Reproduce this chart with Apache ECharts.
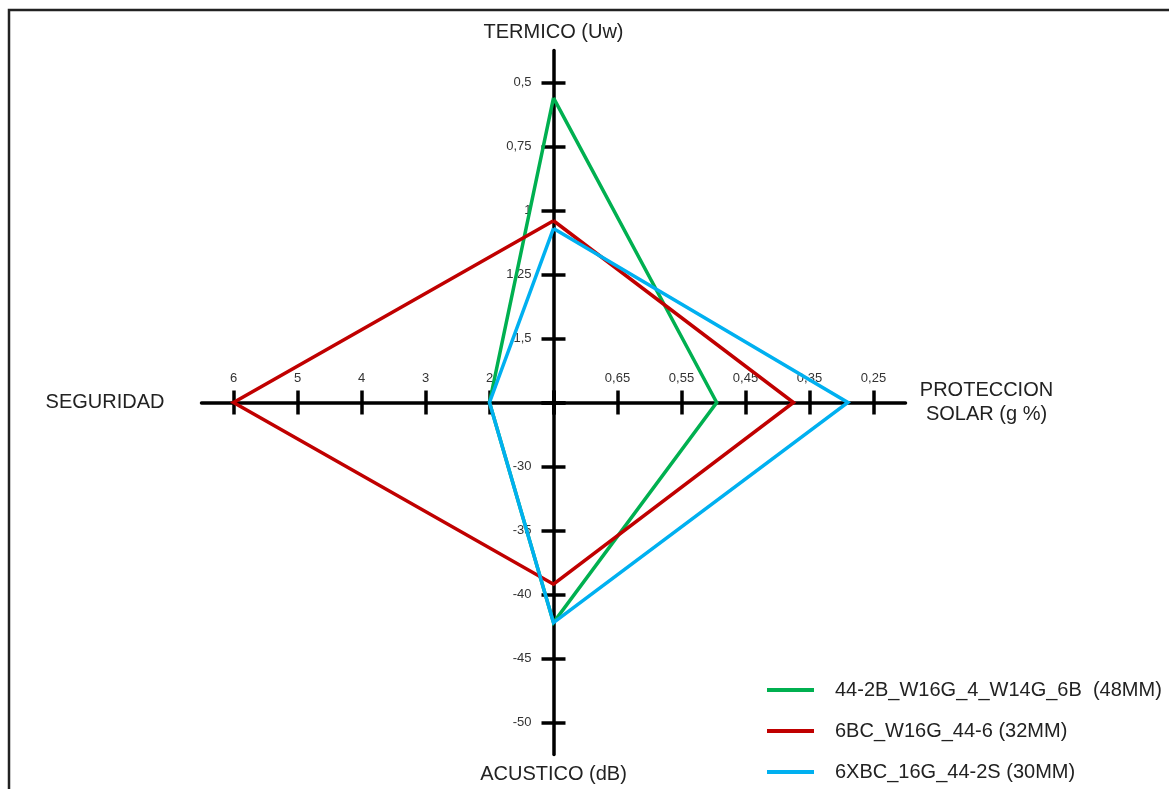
<!DOCTYPE html>
<html>
<head>
<meta charset="utf-8">
<title>Comparativa vidrios</title>
<script src="https://cdn.jsdelivr.net/npm/echarts@6/dist/echarts.min.js"></script>
<style>
html, body { margin: 0; padding: 0; background: #fff; }
#chart { width: 1169px; height: 789px; }
</style>
</head>
<body>
<div id="chart"></div>
<script>
// ejes: primer valor = centro, luego los ticks hacia afuera
const termicoTicks = [1.75, 1.5, 1.25, 1, 0.75, 0.5]
const seguridadTicks = [1, 2, 3, 4, 5, 6]
const acusticoTicks = [-25, -30, -35, -40, -45, -50]
const solarTicks = [0.75, 0.65, 0.55, 0.45, 0.35, 0.25]

const axisNames = ['TERMICO (Uw)', 'SEGURIDAD', 'ACUSTICO (dB)', 'PROTECCION\nSOLAR (g %)']

const seriesNames = ['44-2B_W16G_4_W14G_6B  (48MM)', '6BC_W16G_44-6 (32MM)', '6XBC_16G_44-2S (30MM)']
const termicoVals = [0.56, 1.04, 1.07]
const seguridadVals = [2, 6, 2]
const acusticoVals = [-42.2, -39.2, -42.2]
const solarVals = [0.495, 0.375, 0.29]
const colors = ['#00b050', '#c00000', '#00b0f0']

const cx = 553.5
const cy = 402.5
const step = 64
const half = 12
const font = "'Liberation Sans', Arial, sans-serif"

// el radar no se puede invertir: los ejes que decrecen hacia afuera van con signo cambiado
function sign(ticks) {
	return ticks[1] < ticks[0] ? -1 : 1
}
function indicator(ticks, name, extra) {
	const d = ticks[1] - ticks[0]
	const s = sign(ticks)
	const end = ticks[ticks.length - 1] + d / 2
	return Object.assign({ name: name, min: s * ticks[0], max: s * end }, extra)
}

const comma = (v) => String(v).replace('.', ',')
const comma2 = (v) => v.toFixed(2).replace('.', ',')

// eje visible de cada brazo (solo ticks y etiquetas, la linea la pone el radar)
function armAxis(ticks, gridIndex, opts, fmt, margin) {
	const center = ticks[0]
	return Object.assign(
		{
			gridIndex: gridIndex,
			type: 'value',
			min: Math.min(...ticks),
			max: Math.max(...ticks),
			interval: +Math.abs(ticks[1] - ticks[0]).toFixed(6),
			axisLine: { show: false },
			axisTick: { show: false },
			splitLine: { show: true, lineStyle: { color: '#000', width: 3.5 } },
			axisLabel: {
				color: '#333',
				fontSize: 13,
				fontFamily: font,
				margin: margin,
				formatter: (v) => (Math.abs(v - center) < 1e-6 ? '' : fmt(v)),
			},
		},
		opts
	)
}
function hiddenAxis(gridIndex) {
	return { gridIndex: gridIndex, type: 'value', show: false, min: 0, max: 1 }
}

const n = termicoTicks.length - 1
const signs = [termicoTicks, seguridadTicks, acusticoTicks, solarTicks].map(sign)

const option = {
	animation: false,
	backgroundColor: '#fff',
	graphic: [
		{
			type: 'rect',
			shape: { x: 9, y: 10, width: 1300, height: 900 },
			style: { fill: 'none', stroke: '#222', lineWidth: 2.5 },
			silent: true,
		},
	],
	legend: {
		orient: 'vertical',
		left: 767,
		top: 679,
		padding: 0,
		height: 110,
		icon: 'rect',
		itemWidth: 47,
		itemHeight: 4,
		itemGap: 19,
		data: seriesNames,
		textStyle: {
			color: '#222',
			fontSize: 20,
			lineHeight: 22,
			fontFamily: font,
			padding: [0, 0, 0, 16],
		},
	},
	radar: {
		center: [cx, cy],
		radius: step * (n + 0.5),
		startAngle: 90,
		splitNumber: n,
		shape: 'polygon',
		axisName: { show: true, color: '#222', fontSize: 20, fontFamily: font },
		axisLine: { lineStyle: { color: '#000', width: 3.5 } },
		axisTick: { show: false },
		axisLabel: { show: false },
		splitLine: { show: false },
		splitArea: { show: false },
		indicator: [
			indicator(termicoTicks, axisNames[0], { nameGap: 8 }),
			indicator(seguridadTicks, axisNames[1], { nameGap: 37 }),
			indicator(acusticoTicks, axisNames[2], { nameGap: 10 }),
			indicator(solarTicks, axisNames[3], {
				nameGap: 81,
				nameTextStyle: { align: 'center', lineHeight: 24 },
			}),
		],
	},
	grid: [
		{ left: cx - half, top: cy - n * step, width: 2 * half, height: n * step },
		{ left: cx - n * step, top: cy - half, width: n * step, height: 2 * half },
		{ left: cx - half, top: cy, width: 2 * half, height: n * step },
		{ left: cx, top: cy - half, width: n * step, height: 2 * half },
	],
	xAxis: [
		hiddenAxis(0),
		armAxis(seguridadTicks, 1, { position: 'top', inverse: true }, comma, 6),
		hiddenAxis(2),
		armAxis(solarTicks, 3, { position: 'top', inverse: true }, comma2, 6),
	],
	yAxis: [
		armAxis(termicoTicks, 0, { position: 'left', inverse: true }, comma, 10),
		hiddenAxis(1),
		armAxis(acusticoTicks, 2, { position: 'left' }, comma, 10),
		hiddenAxis(3),
	],
	series: [
		{
			type: 'radar',
			symbol: 'none',
			data: seriesNames.map((name, i) => ({
				name: name,
				value: [
					signs[0] * termicoVals[i],
					signs[1] * seguridadVals[i],
					signs[2] * acusticoVals[i],
					signs[3] * solarVals[i],
				],
				itemStyle: { color: colors[i] },
				lineStyle: { color: colors[i], width: 3.5, join: 'miter', miterLimit: 10 },
			})),
		},
	],
}

const chart = echarts.init(document.getElementById('chart'))
chart.setOption(option)
window.addEventListener('resize', chart.resize)
</script>
</body>
</html>
